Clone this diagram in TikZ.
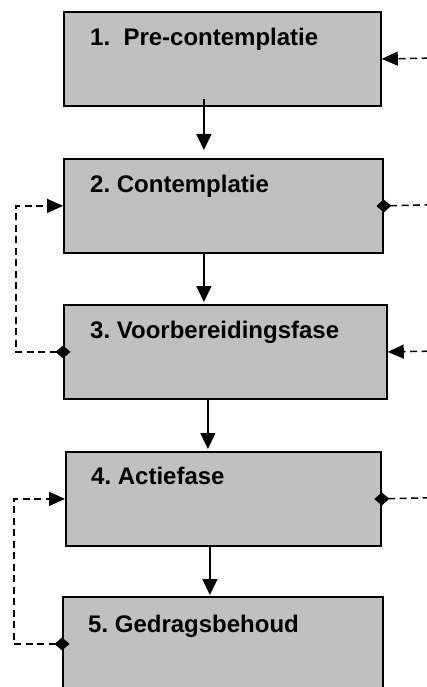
\documentclass[tikz,border=0pt]{standalone}
\usepackage{fontspec}
\setmainfont{Liberation Sans}
\usetikzlibrary{arrows.meta}
\definecolor{stagegray}{RGB}{192,192,192}
\frenchspacing

\begin{document}
\begin{tikzpicture}[x=1pt,y=-1pt,
                        stage node/.style={draw,line width=1.8pt,fill=stagegray,anchor=north west,inner sep=0pt,minimum height=94pt},
                        stage text/.style={anchor=base west,inner sep=0pt,font=\fontsize{24}{28}\selectfont\bfseries},
                        flow/.style={-{Triangle[length=16pt,width=15pt]},line width=1.5pt},
                        back/.style={line width=1.5pt,dash pattern=on 7pt off 4.5pt},
                        back in/.style={back,-{Triangle[length=16pt,width=14pt]}},
                        back out/.style={back,{Diamond[length=15pt,width=13pt]}-,shorten <=-7.5pt},
                        back loop/.style={back,{Diamond[length=15pt,width=13pt]}-{Triangle[length=16pt,width=14pt]},shorten <=-7.5pt}]
                        \useasboundingbox (0,0) rectangle (427,687);
                        \clip (0,0) rectangle (427,687);

                        % stages
                        \node[stage node,minimum width=317pt] (1) at (63,11) {};
                        \node[stage node,minimum width=319pt] (2) at (63,158) {};
                        \node[stage node,minimum width=323pt] (3) at (63,304) {};
                        \node[stage node,minimum width=315pt] (4) at (65,451) {};
                        \node[stage node,minimum width=320pt] (5) at (62,596) {};

                        \node[stage text] (t1) at ([xshift=27pt,yshift=-34.5pt]1.north west) {1.\ \ Pre-contemplatie};
                        \node[stage text] (t2) at ([xshift=27pt,yshift=-34pt]2.north west) {2. Contemplatie};
                        \node[stage text] (t3) at ([xshift=27pt,yshift=-34pt]3.north west) {3. Voorbereidingsfase};
                        \node[stage text] (t4) at ([xshift=26pt,yshift=-33pt]4.north west) {4. Actiefase};
                        \node[stage text] (t5) at ([xshift=26pt,yshift=-36.5pt]5.north west) {5. Gedragsbehoud};

                        % forward steps
                        \path[flow]
                        ([xshift=-18.5pt,yshift=8pt]1.south) edge ([xshift=-19.5pt,yshift=8pt]2.north)
                        ([xshift=-19.5pt]2.south) edge ([xshift=-21.5pt,yshift=2pt]3.north)
                        ([xshift=-17.5pt]3.south) edge ([xshift=-15.5pt,yshift=2pt]4.north)
                        ([xshift=-13.5pt]4.south) edge ([xshift=-13pt,yshift=1pt]5.north)
                        ;

                        % relapse lines
                        \coordinate (r1) at (440,58);
                        \coordinate (r2) at (440,204.5);
                        \coordinate (r3) at (440,351);
                        \coordinate (r4) at (440,497.5);
                        \coordinate (loop1) at (16,0);
                        \coordinate (loop2) at (14,0);

                        \draw[back in] (r1) -- (1.east);
                        \draw[back out] (2.east) -- (r2);
                        \draw[back in] (r3) -- (3.east);
                        \draw[back out] (4.east) -- (r4);
                        \draw[back loop] (3.west) -- (3.west -| loop1) |- (2.west);
                        \draw[back loop] (5.west) -- (5.west -| loop2) |- (4.west);
                        \end{tikzpicture}
\end{document}
